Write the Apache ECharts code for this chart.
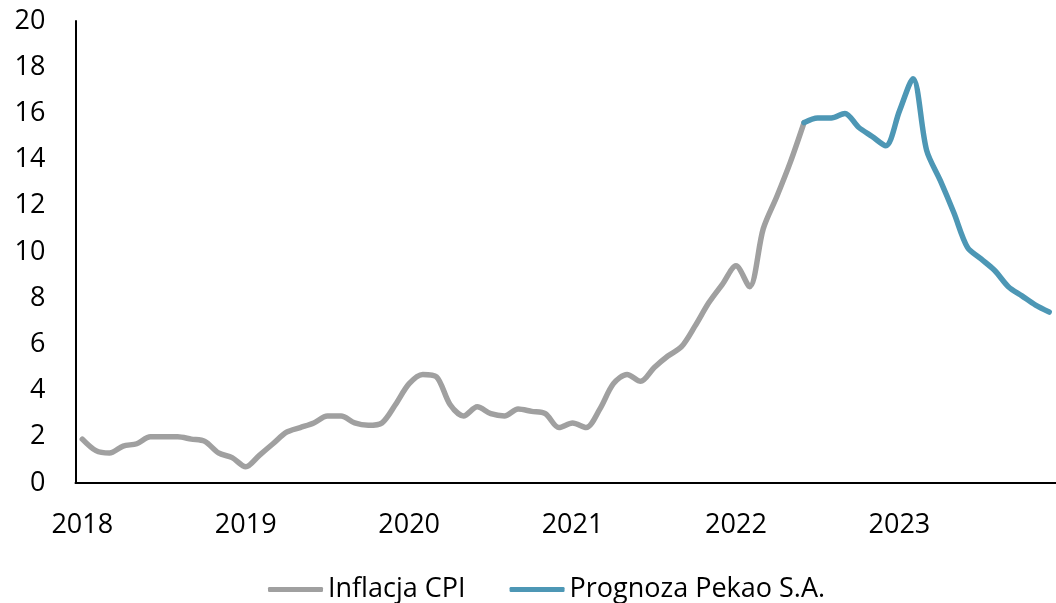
<!DOCTYPE html>
<html>
<head>
<meta charset="utf-8">
<script src="https://cdn.jsdelivr.net/npm/echarts@6/dist/echarts.min.js"></script>
<style>
  html, body { margin: 0; padding: 0; background: #fff; }
  #chart { width: 1056px; height: 603px; }
</style>
</head>
<body>
<div id="chart"></div>
<script>
// monthly data, Jan 2018 - Dec 2023
const years = ['2018', '2019', '2020', '2021', '2022', '2023']
const months = ['01', '02', '03', '04', '05', '06', '07', '08', '09', '10', '11', '12']

// CPI y/y, Jan 2018 - Jun 2022
const cpi = [
  1.9, 1.4, 1.3, 1.6, 1.7, 2.0, 2.0, 2.0, 1.9, 1.8, 1.3, 1.1,
  0.7, 1.2, 1.7, 2.2, 2.4, 2.6, 2.9, 2.9, 2.6, 2.5, 2.6, 3.4,
  4.3, 4.7, 4.6, 3.4, 2.9, 3.3, 3.0, 2.9, 3.2, 3.1, 3.0, 2.4,
  2.6, 2.4, 3.2, 4.3, 4.7, 4.4, 5.0, 5.5, 5.9, 6.8, 7.8, 8.6,
  9.4, 8.5, 11.0, 12.4, 13.9, 15.6
]
// forecast, Jun 2022 - Dec 2023
const forecast = [
  15.6, 15.8, 15.8, 16.0, 15.4, 15.0, 14.6,
  16.1, 17.5, 14.4, 13.1, 11.7, 10.2, 9.7, 9.2, 8.5, 8.1, 7.7, 7.4
]
const forecastStart = 53 // index of Jun 2022

let categories = []
for (let y of years) {
  for (let m of months) categories.push(y + '-' + m)
}

let cpiData = categories.map((c, i) => i < cpi.length ? cpi[i] : null)
let forecastData = categories.map((c, i) =>
  i >= forecastStart && i - forecastStart < forecast.length ? forecast[i - forecastStart] : null)

const font = 'Open Sans'
let myChart = echarts.init(document.getElementById('chart'))

let option = {
  animation: false,
  textStyle: { fontFamily: font },
  legend: {
    left: 263, top: 571,
    itemWidth: 55, itemHeight: 5, itemGap: 44,
    icon: 'roundRect',
    textStyle: { fontFamily: font, fontSize: 27, color: '#000' },
    data: ['Inflacja CPI', 'Prognoza Pekao S.A.']
  },
  grid: { left: 75.5, right: -4, top: 21, bottom: 120, containLabel: false },
  xAxis: {
    type: 'category',
    boundaryGap: true,
    data: categories,
    axisLine: { lineStyle: { color: '#000', width: 2 } },
    axisTick: { show: false },
    splitLine: { show: false },
    axisLabel: {
      interval: 11, margin: 29,
      fontFamily: font, fontSize: 27, color: '#000',
      formatter: v => v.slice(0, 4)
    }
  },
  yAxis: {
    type: 'value',
    min: 0, max: 20, interval: 2,
    axisLine: { show: true, lineStyle: { color: '#000', width: 2 } },
    axisTick: { show: false },
    splitLine: { show: false },
    axisLabel: { margin: 30, fontFamily: font, fontSize: 27, color: '#000' }
  },
  series: [
    {
      name: 'Inflacja CPI', type: 'line', data: cpiData,
      smooth: 0.3, showSymbol: false, symbol: 'none',
      itemStyle: { color: '#A0A0A0' },
      lineStyle: { color: '#A0A0A0', width: 5.5, cap: 'round', join: 'round' }
    },
    {
      name: 'Prognoza Pekao S.A.', type: 'line', data: forecastData,
      smooth: 0.3, showSymbol: false, symbol: 'none',
      itemStyle: { color: '#4D97B5' },
      lineStyle: { color: '#4D97B5', width: 5.5, cap: 'round', join: 'round' }
    }
  ]
}

myChart.setOption(option)
</script>
</body>
</html>
